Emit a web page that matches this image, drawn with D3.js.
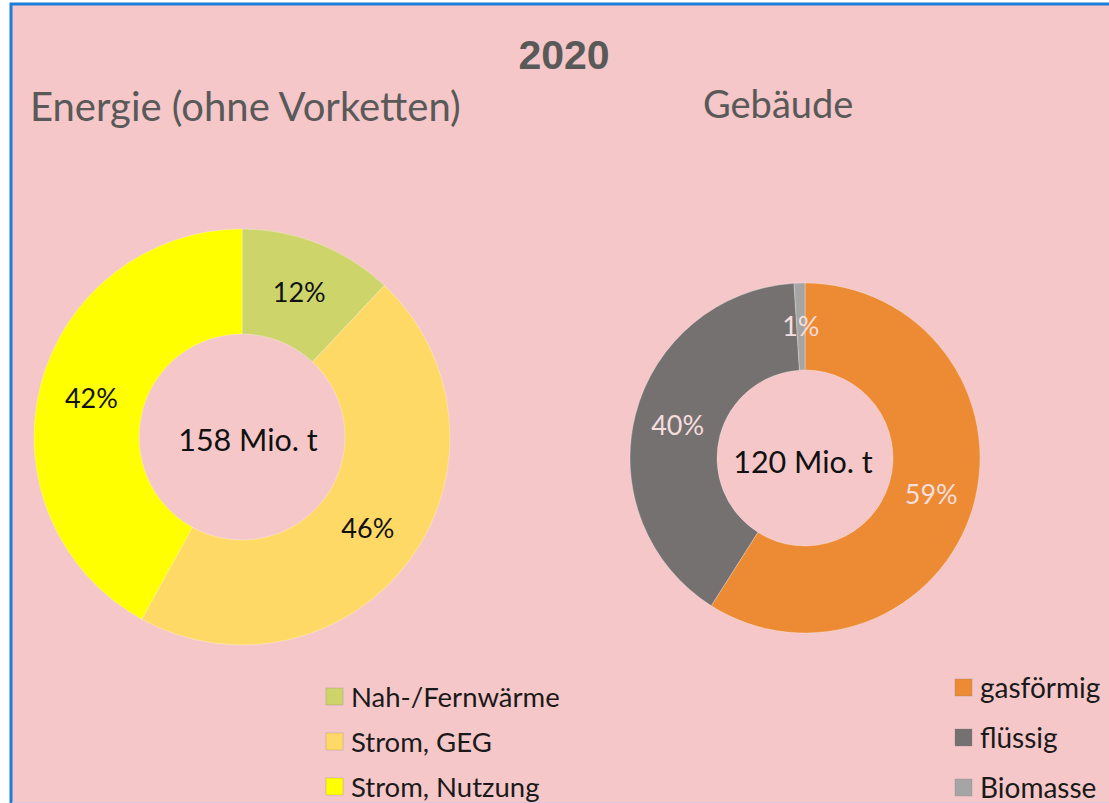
<!DOCTYPE html>
<html>
<head>
<meta charset="utf-8">
<script src="https://cdn.jsdelivr.net/npm/d3@7"></script>
<style>
  html, body { margin: 0; padding: 0; background: #fff; }
  svg { display: block; }
</style>
</head>
<body>
<svg id="chart"></svg>
<script>
const width = 1109;
const height = 803;

// data
const title = '2020';
const energyLabels = ['Nah-/Fernwärme', 'Strom, GEG', 'Strom, Nutzung'];
const energyShares = [12, 46, 42];
const energyTotal = '158 Mio. t';
const buildingLabels = ['gasförmig', 'flüssig', 'Biomasse'];
const buildingShares = [59, 40, 1];
const buildingTotal = '120 Mio. t';

const energyColors = ['#cdd56a', '#ffd966', '#ffff00'];
const buildingColors = ['#ec8b33', '#767171', '#a5a5a5'];

const bg = '#f5c7c8';
const sans = 'Lato, Carlito, Calibri, sans-serif';

let svg = d3.select('#chart')
  .attr('width', width)
  .attr('height', height);

// page + chart area (border clipped at right/bottom)
svg.append('rect')
  .attr('x', 0).attr('y', 0).attr('width', width).attr('height', height)
  .attr('fill', '#fff');

svg.append('rect')
  .attr('x', 11).attr('y', 4).attr('width', width + 20).attr('height', height + 20)
  .attr('fill', bg)
  .attr('stroke', '#1a7fd8')
  .attr('stroke-width', 3);

svg.append('line')
  .attr('x1', 12).attr('x2', width).attr('y1', height - 0.5).attr('y2', height - 0.5)
  .attr('stroke', '#d8c8e8').attr('stroke-width', 1);

svg.append('text')
  .attr('x', 564).attr('y', 69)
  .attr('text-anchor', 'middle')
  .attr('font-family', 'Liberation Sans, Arial, sans-serif')
  .attr('font-weight', 'bold')
  .attr('font-size', 41)
  .attr('fill', '#595959')
  .text(title);

function donut(opts) {
  let g = svg.append('g')
    .attr('transform', `translate(${opts.cx},${opts.cy})`);

  let pie = d3.pie().sort(null).value(d => d)(opts.values);
  let arc = d3.arc().innerRadius(opts.inner).outerRadius(opts.outer);

  g.selectAll('path.slice')
    .data(pie)
    .join('path')
    .attr('class', 'slice')
    .attr('d', arc)
    .attr('fill', (d, i) => opts.colors[i])
    .attr('stroke', 'rgba(255,255,255,0.35)')
    .attr('stroke-width', 0.8);

  g.selectAll('text.pct')
    .data(pie)
    .join('text')
    .attr('class', 'pct')
    .attr('transform', d => `translate(${arc.centroid(d)})`)
    .attr('text-anchor', 'middle')
    .attr('dy', '0.36em')
    .attr('font-family', sans)
    .attr('font-size', 27)
    .attr('fill', opts.labelColor)
    .text(d => d.data + '%');

  g.append('text')
    .attr('text-anchor', 'middle')
    .attr('x', opts.totalDx)
    .attr('dy', '0.36em')
    .attr('y', opts.totalDy)
    .attr('font-family', sans)
    .attr('font-size', 30.5)
    .attr('fill', '#111')
    .text(opts.total);

  svg.append('text')
    .attr('x', opts.titleX).attr('y', opts.titleY)
    .attr('font-family', sans)
    .attr('font-size', opts.titleSize)
    .attr('fill', '#595959')
    .text(opts.title);

  let leg = svg.append('g')
    .attr('transform', `translate(${opts.legX},${opts.legY})`);

  let rows = leg.selectAll('g')
    .data(opts.labels)
    .join('g')
    .attr('transform', (d, i) => `translate(0,${i * opts.legStep})`);

  rows.append('rect')
    .attr('x', 0).attr('y', -9).attr('width', 17).attr('height', 17)
    .attr('fill', (d, i) => opts.colors[i])
    .attr('stroke', 'rgba(120,120,120,0.35)')
    .attr('stroke-width', 0.7);

  rows.append('text')
    .attr('x', 25)
    .attr('dy', '0.36em')
    .attr('font-family', sans)
    .attr('font-size', opts.legSize)
    .attr('fill', '#1a1a1a')
    .text(d => d);
}

donut({
  cx: 242, cy: 437, outer: 208, inner: 103,
  values: energyShares, colors: energyColors, labels: energyLabels,
  labelColor: '#111', total: energyTotal, totalDx: 6, totalDy: 3,
  title: 'Energie (ohne Vorketten)', titleX: 30, titleY: 121, titleSize: 40,
  legX: 326, legY: 697, legStep: 45, legSize: 27.5
});

donut({
  cx: 805, cy: 458, outer: 175, inner: 88,
  values: buildingShares, colors: buildingColors, labels: buildingLabels,
  labelColor: '#f6dede', total: buildingTotal, totalDx: -2, totalDy: 4,
  title: 'Gebäude', titleX: 703, titleY: 118, titleSize: 38,
  legX: 955, legY: 688, legStep: 50, legSize: 28
});
</script>
</body>
</html>
